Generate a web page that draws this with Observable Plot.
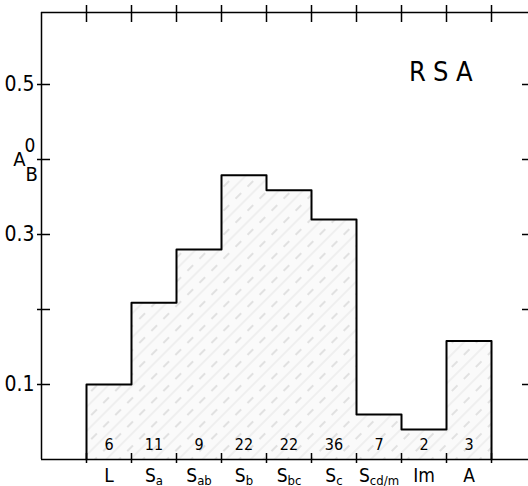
<!DOCTYPE html>
<html><head><meta charset="utf-8">
<script src="https://cdn.jsdelivr.net/npm/d3@7"></script>
<script src="https://cdn.jsdelivr.net/npm/@observablehq/plot@0.6"></script>
<style>body{margin:0;background:#fff} svg{display:block;background:#fff}</style>
</head><body><div id="chart"></div>
<script>
const categories = ["L", "S_a", "S_ab", "S_b", "S_bc", "S_c", "S_cd/m", "Im", "A"];
const fractions = [0.100, 0.209, 0.280, 0.379, 0.359, 0.320, 0.060, 0.040, 0.158];
const counts = [6, 11, 9, 22, 22, 36, 7, 2, 3];
const yTicks = [0.1, 0.2, 0.3, 0.4, 0.5];
const yTickLabels = ["0.1", "", "0.3", "", "0.5"];
const yLabelAt = 0.4;
const yLabelMain = "A", yLabelSup = "0", yLabelSub = "B";
const title = "RSA";

const FONT = "'Liberation Sans Narrow', 'DejaVu Sans Condensed', 'DejaVu Sans', sans-serif";
const xMax = 10.822, yMax = 0.596;

const bins = categories.map((c, i) => ({cat: c, x1: i + 1, x2: i + 2, v: fractions[i], n: counts[i]}));
const outline = [{x: bins[0].x1, y: 0}, ...bins.flatMap(d => [{x: d.x1, y: d.v}, {x: d.x2, y: d.v}]), {x: bins[bins.length - 1].x2, y: 0}];
const bounds = d3.range(1, categories.length + 2);
const yLab = yTicks.map((t, i) => ({t, label: yTickLabels[i]})).filter(d => d.label);

const plot = Plot.plot({
  width: 528, height: 486,
  marginLeft: 41, marginRight: 0, marginTop: 12, marginBottom: 27,
  x: {domain: [0, xMax], axis: null},
  y: {domain: [0, yMax], axis: null},
  style: {fontFamily: FONT, background: "#fff"},
  marks: [
    Plot.rectY(bins, {x1: "x1", x2: "x2", y: "v", fill: "#fff"}),
    Plot.line(outline, {x: "x", y: "y", stroke: "#000", strokeWidth: 2}),
    // frame lines (left, bottom, top)
    Plot.ruleX([0], {y1: 0, y2: yMax, stroke: "#000", strokeWidth: 1.5}),
    Plot.ruleY([0, yMax], {x1: 0, x2: xMax, stroke: "#000", strokeWidth: 1.5}),
    // x ticks at bin boundaries, top and bottom
    Plot.ruleX(bounds, {x: d => d, y1: yMax, y2: yMax, insetTop: -7, insetBottom: -10, stroke: "#000", strokeWidth: 1.5}),
    Plot.ruleX(bounds, {x: d => d, y1: 0, y2: 0, insetTop: -6, insetBottom: -4, stroke: "#000", strokeWidth: 1.5}),
    // y ticks left and right
    Plot.ruleY(yTicks, {y: d => d, x1: 0, x2: 0, insetLeft: -4, insetRight: -9, stroke: "#000", strokeWidth: 1.5}),
    Plot.ruleY(yTicks, {y: d => d, x1: xMax, x2: xMax, insetLeft: -6, insetRight: 0, stroke: "#000", strokeWidth: 1.5}),
    // y tick labels
    Plot.text(yLab, {x: 0, y: "t", text: "label", textAnchor: "end", dx: -7, fontSize: 21, fill: "#000"}),
    Plot.text([yLabelMain], {x: 0, y: yLabelAt, text: d => d, textAnchor: "end", dx: -16, dy: 0, fontSize: 20, fill: "#000"}),
    Plot.text([yLabelSup], {x: 0, y: yLabelAt, text: d => d, textAnchor: "start", dx: -17, dy: -14, fontSize: 19, fill: "#000"}),
    Plot.text([yLabelSub], {x: 0, y: yLabelAt, text: d => d, textAnchor: "start", dx: -16, dy: 15, fontSize: 20, fill: "#000"}),
    // counts
    Plot.text(bins, {x: d => (d.x1 + d.x2) / 2, y: 0, text: d => String(d.n), lineAnchor: "bottom", dy: -10, fontSize: 16, fill: "#000"}),
    // category labels
    Plot.text(bins, {x: d => (d.x1 + d.x2) / 2, y: 0, text: "cat", lineAnchor: "bottom", dy: 22, fontSize: 19, fill: "#000"}),
    // title
    Plot.text([title], {frameAnchor: "top-right", text: d => d, textAnchor: "end", lineAnchor: "bottom", dx: -49, dy: 68, fontSize: 27, fill: "#000"})
  ]
});

const svg = d3.select(plot);
const defs = svg.insert("defs", ":first-child");
const pat = defs.append("pattern").attr("id", "hatch").attr("patternUnits", "userSpaceOnUse")
  .attr("width", 17).attr("height", 17).attr("patternTransform", "rotate(45)");
pat.append("rect").attr("width", 17).attr("height", 17).attr("fill", "#fafafa");
pat.append("line").attr("x1", 1).attr("y1", 0).attr("x2", 1).attr("y2", 17)
  .attr("stroke", "#c9c9c9").attr("stroke-width", 1).attr("stroke-dasharray", "8 9");
pat.append("line").attr("x1", 9).attr("y1", 0).attr("x2", 9).attr("y2", 17)
  .attr("stroke", "#efefef").attr("stroke-width", 2);
svg.select('g[aria-label="rect"]').attr("fill", "url(#hatch)");

svg.selectAll("text, tspan").each(function() {
  if (this.childElementCount === 0 && this.textContent.includes("_")) {
    const [base, sub] = this.textContent.split("_");
    this.textContent = base;
    d3.select(this).append("tspan").attr("dy", 3).attr("font-size", 13).text(sub);
  }
  if (this.childElementCount === 0 && this.textContent === title) {
    d3.select(this).attr("letter-spacing", 7);
  }
});

document.getElementById("chart").append(plot);
</script>
</body></html>
